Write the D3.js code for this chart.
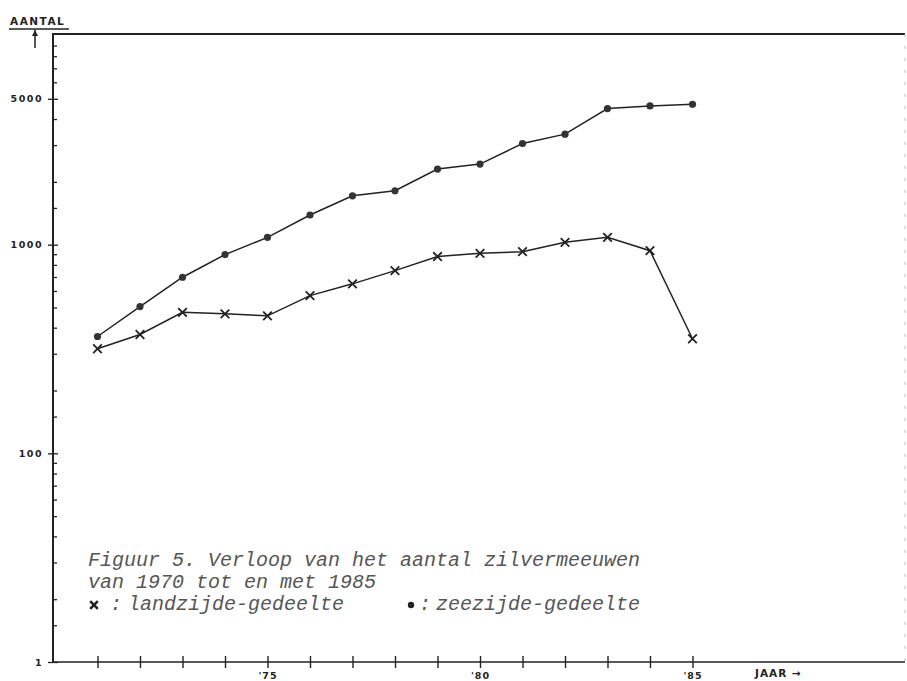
<!DOCTYPE html>
<html>
<head>
<meta charset="utf-8">
<script src="https://cdn.jsdelivr.net/npm/d3@7"></script>
<style>
  body { margin: 0; background: #fff; }
  svg { display: block; }
</style>
</head>
<body>
<div class="canvas"></div>
<script>
// data
const years = [1971, 1972, 1973, 1974, 1975, 1976, 1977, 1978, 1979, 1980, 1981, 1982, 1983, 1984, 1985];
const zeezijde = [363, 505, 698, 896, 1084, 1387, 1715, 1813, 2303, 2434, 3053, 3386, 4489, 4624, 4710];
const landzijde = [317, 371, 474, 466, 456, 570, 649, 751, 877, 909, 926, 1026, 1084, 936, 354];

const yMajorTicks = [10, 100, 1000, 5000];
const yMajorLabels = ["1", "100", "1000", "5000"];
const yMinorTicks = [15, 20, 30, 40, 50, 60, 70, 80, 90, 150, 200, 300, 400, 500, 600, 700, 800, 900,
  1500, 2000, 3000, 4000, 6000, 7000, 8000, 9000];
const xTicks = years;
const xLabels = { 1975: "'75", 1980: "'80", 1985: "'85" };

const captionLines = ["Figuur 5. Verloop van het aantal zilvermeeuwen", "van 1970 tot en met 1985"];
const legendLand = "landzijde-gedeelte";
const legendZee = "zeezijde-gedeelte";

const width = 907;
const height = 681;
const axisX = 53;
const ink = "#222";
const labelFont = "'DejaVu Sans', sans-serif";

const svg = d3
  .select(".canvas")
  .append("svg")
  .attr("width", width)
  .attr("height", height);

const x = d3.scaleLinear().domain([1970, 1990]).range([55, 905]);
const y = d3.scaleLog().domain([10, 10000]).range([662, 36]);

// frame: top rule and faint right edge
svg.append("line")
  .attr("x1", axisX).attr("x2", 905)
  .attr("y1", 34).attr("y2", 34)
  .attr("stroke", ink).attr("stroke-width", 2.2);
svg.append("line")
  .attr("x1", 905).attr("x2", 905)
  .attr("y1", 34).attr("y2", 662)
  .attr("stroke", "#bbb").attr("stroke-width", 1)
  .attr("stroke-dasharray", "3 9");

// y axis: minor ticks inside, major ticks across
const yMinor = svg.append("g")
  .attr("transform", `translate(${axisX},0)`)
  .call(d3.axisRight(y).tickValues(yMinorTicks).tickSize(4).tickFormat(""));
const yMajor = svg.append("g")
  .attr("transform", `translate(${axisX},0)`)
  .call(d3.axisLeft(y).tickValues(yMajorTicks).tickSize(5)
    .tickFormat((d, i) => yMajorLabels[i]));
yMajor.selectAll(".tick line").attr("x2", 5).attr("x1", -5);
[yMinor, yMajor].forEach((g) => {
  g.select(".domain").remove();
  g.selectAll("line").attr("stroke", ink).attr("stroke-width", 1.3);
});
yMajor.selectAll("text")
  .attr("x", -10)
  .attr("fill", ink)
  .style("font-family", labelFont)
  .style("font-size", "9.5px")
  .style("font-weight", "bold")
  .style("letter-spacing", "1.5px");

svg.append("line")
  .attr("x1", axisX).attr("x2", axisX)
  .attr("y1", 33).attr("y2", 663)
  .attr("stroke", ink).attr("stroke-width", 2);

// x axis
const xAxisGroup = svg.append("g")
  .attr("transform", "translate(0,662)")
  .call(d3.axisBottom(x).tickValues(xTicks).tickSize(6)
    .tickFormat((d) => xLabels[d] || ""));
xAxisGroup.select(".domain").remove();
xAxisGroup.selectAll(".tick line")
  .attr("y1", -6).attr("y2", 6)
  .attr("stroke", ink).attr("stroke-width", 1.4);
xAxisGroup.selectAll("text")
  .attr("y", 10)
  .attr("fill", ink)
  .style("font-family", labelFont)
  .style("font-size", "9.5px")
  .style("font-weight", "bold")
  .style("letter-spacing", "1px");

svg.append("line")
  .attr("x1", axisX).attr("x2", 905)
  .attr("y1", 662).attr("y2", 662)
  .attr("stroke", ink).attr("stroke-width", 1.5);

svg.append("text")
  .attr("x", 755).attr("y", 677)
  .attr("fill", ink)
  .style("font-family", labelFont)
  .style("font-size", "10.5px")
  .style("font-weight", "bold")
  .style("letter-spacing", "1px")
  .text("JAAR \u2192");

// AANTAL label with underline and arrow
svg.append("text")
  .attr("x", 10).attr("y", 25)
  .attr("fill", ink)
  .style("font-family", labelFont)
  .style("font-size", "10.5px")
  .style("font-weight", "bold")
  .style("letter-spacing", "1.5px")
  .text("AANTAL");
svg.append("line")
  .attr("x1", 9).attr("x2", 69)
  .attr("y1", 29).attr("y2", 29)
  .attr("stroke", ink).attr("stroke-width", 1.3);
svg.append("line")
  .attr("x1", 35).attr("x2", 35)
  .attr("y1", 30).attr("y2", 48)
  .attr("stroke", ink).attr("stroke-width", 1.5);
svg.append("path")
  .attr("d", "M32,36 L35,30 L38,36 Z")
  .attr("fill", ink);

// lines
const line = d3.line()
  .x((d) => x(d.year))
  .y((d) => y(d.value));

const zeeData = years.map((yr, i) => ({ year: yr, value: zeezijde[i] }));
const landData = years.map((yr, i) => ({ year: yr, value: landzijde[i] }));

svg.append("path")
  .datum(zeeData)
  .attr("fill", "none")
  .attr("stroke", ink)
  .attr("stroke-width", 1.5)
  .attr("d", line);

svg.append("path")
  .datum(landData)
  .attr("fill", "none")
  .attr("stroke", ink)
  .attr("stroke-width", 1.5)
  .attr("d", line);

svg.selectAll("circle.zee")
  .data(zeeData)
  .enter()
  .append("circle")
  .attr("class", "zee")
  .attr("r", 3.6)
  .attr("fill", "#333")
  .attr("cx", (d) => x(d.year))
  .attr("cy", (d) => y(d.value));

const cross = d3.symbol().type(d3.symbolX).size(50);
svg.selectAll("path.land")
  .data(landData)
  .enter()
  .append("path")
  .attr("class", "land")
  .attr("d", cross)
  .attr("fill", "none")
  .attr("stroke", ink)
  .attr("stroke-width", 1.8)
  .attr("transform", (d) => `translate(${x(d.year)},${y(d.value)})`);

// caption in typewriter style
const caption = svg.append("g")
  .style("font-family", "'Liberation Mono', 'DejaVu Sans Mono', monospace")
  .style("font-style", "italic")
  .style("font-size", "20px")
  .attr("fill", "#555");

captionLines.forEach((t, i) => {
  caption.append("text")
    .attr("x", 88)
    .attr("y", 566 + i * 22)
    .text(t);
});

svg.append("path")
  .attr("d", d3.symbol().type(d3.symbolX).size(40)())
  .attr("transform", "translate(94,605)")
  .attr("stroke", ink)
  .attr("stroke-width", 2.6);
caption.append("text").attr("x", 110).attr("y", 610).text(":");
caption.append("text").attr("x", 128).attr("y", 610).text(legendLand);

svg.append("circle")
  .attr("cx", 411).attr("cy", 605)
  .attr("r", 3.2)
  .attr("fill", ink);
caption.append("text").attr("x", 419).attr("y", 610).text(":");
caption.append("text").attr("x", 436).attr("y", 610).text(legendZee);
</script>
</body>
</html>
